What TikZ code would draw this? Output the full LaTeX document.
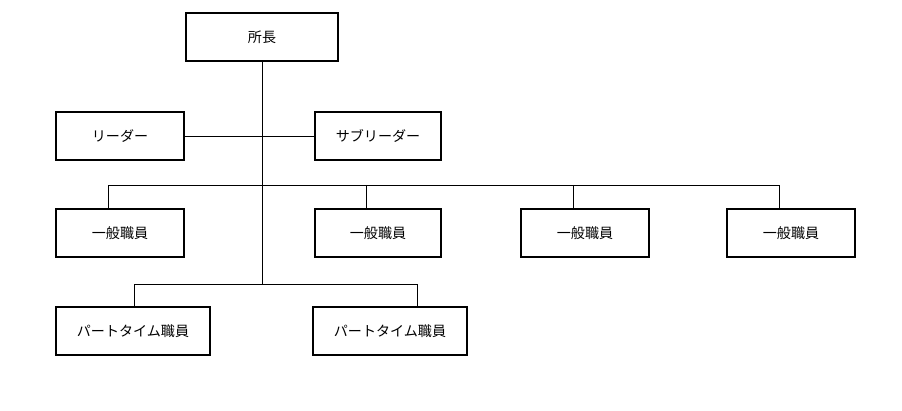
\documentclass[tikz,border=0pt]{standalone}
\usepackage{fontspec}
\newfontfamily\cjk{Noto Sans CJK JP}
\usetikzlibrary{positioning}
\tikzset{
  orgBox/.style = {draw=black, line width=1.3pt, minimum height=1.2cm, inner sep=0pt, font=\cjk\fontsize{10}{12}\selectfont},
  orgLine/.style = {draw=black, line width=0.5pt}
}
\begin{document}
\begin{tikzpicture}[x=0.025cm, y=-0.025cm]
  \useasboundingbox (0,0) rectangle (902,411);
  % boxes
  \node[orgBox, minimum width=3.8cm] (chief) at (262,37) {所長};
  \node[orgBox, minimum width=3.2cm] (leader) at (120,136) {リーダー};
  \node[orgBox, minimum width=3.15cm] (subLeader) at (378,136) {サブリーダー};
  \node[orgBox, minimum width=3.2cm] (staffA) at (120,233) {一般職員};
  \node[orgBox, minimum width=3.15cm] (staffB) at (378,233) {一般職員};
  \node[orgBox, minimum width=3.2cm] (staffC) at (585,233) {一般職員};
  \node[orgBox, minimum width=3.2cm] (staffD) at (791,233) {一般職員};
  \node[orgBox, minimum width=3.85cm] (partA) at (133,331) {パートタイム職員};
  \node[orgBox, minimum width=3.85cm] (partB) at (390,331) {パートタイム職員};
  % bus coordinates
  \coordinate (trunkEnd) at (262,284);
  \coordinate (busA) at (108,185);
  \coordinate (busB) at (366,185);
  \coordinate (busC) at (573,185);
  \coordinate (busD) at (779,185);
  \coordinate (partBusA) at (134,284);
  \coordinate (partBusB) at (417,284);
  % connectors
  \draw[orgLine] (chief.south) -- (trunkEnd);
  \draw[orgLine] (leader.east) -- (subLeader.west);
  \draw[orgLine] (busA |- staffA.north) -- (busA) -- (busD) -- (busD |- staffD.north);
  \draw[orgLine] (busB) -- (busB |- staffB.north);
  \draw[orgLine] (busC) -- (busC |- staffC.north);
  \draw[orgLine] (partBusA |- partA.north) -- (partBusA) -- (partBusB) -- (partBusB |- partB.north);
\end{tikzpicture}
\end{document}
